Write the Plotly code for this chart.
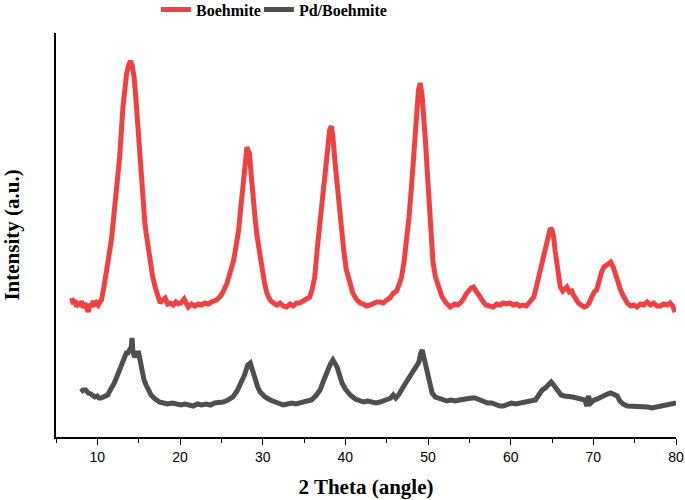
import plotly.graph_objects as go

# Boehmite (red) – 2θ in degrees and intensity (a.u.)
boehmite_2theta = [6.9, 7.1, 7.3, 7.5, 7.7, 7.9, 8.1, 8.3, 8.5, 8.7, 8.9, 9.1, 9.3, 9.5, 9.7, 9.9, 10.1, 10.3, 10.5,
    10.8, 11.1, 11.4, 11.7, 12.1, 12.4, 12.7, 13.1, 13.3, 13.55, 13.8, 14.0, 14.2, 14.45, 14.65, 14.85, 15.05, 15.2,
    15.4, 15.55, 15.75, 15.9, 16.2, 16.4, 16.7, 17.0, 17.3, 17.6, 17.9, 18.2, 18.5, 18.8, 19.2, 19.5, 19.8, 20.1,
    20.5, 20.8, 21.0, 21.4, 21.8, 22.2, 22.6, 23.0, 23.4, 23.8, 24.1, 24.4, 24.8, 25.2, 25.7, 26.1, 26.5, 26.8,
    27.1, 27.3, 27.5, 27.7, 27.9, 28.1, 28.25, 28.4, 28.55, 28.7, 28.9, 29.1, 29.3, 29.5, 29.7, 29.9, 30.2, 30.5,
    30.9, 31.3, 31.7, 32.1, 32.5, 32.9, 33.3, 33.7, 34.1, 34.5, 34.9, 35.3, 35.7, 36.0, 36.3, 36.6, 36.95, 37.25,
    37.55, 37.85, 38.1, 38.3, 38.5, 38.75, 39.0, 39.2, 39.5, 39.8, 40.1, 40.4, 40.9, 41.4, 41.8, 42.2, 42.6, 43.0,
    43.4, 43.8, 44.2, 44.6, 45.0, 45.4, 45.8, 46.2, 46.5, 46.8, 47.1, 47.4, 47.7, 48.0, 48.2, 48.45, 48.65, 48.85,
    49.0, 49.1, 49.3, 49.45, 49.7, 49.9, 50.1, 50.3, 50.6, 50.9, 51.3, 51.7, 52.2, 52.7, 53.2, 53.6, 53.9, 54.3,
    54.6, 54.9, 55.2, 55.5, 55.8, 56.1, 56.4, 56.7, 57.0, 57.4, 57.9, 58.3, 58.7, 59.1, 59.5, 59.9, 60.3, 60.7,
    61.1, 61.5, 61.9, 62.3, 62.6, 62.8, 63.1, 63.5, 63.9, 64.2, 64.5, 64.8, 65.0, 65.2, 65.4, 65.6, 65.8, 66.0,
    66.3, 66.6, 66.8, 67.1, 67.4, 67.6, 67.9, 68.2, 68.5, 68.9, 69.2, 69.5, 69.8, 70.1, 70.4, 70.7, 71.0, 71.3,
    71.6, 71.9, 72.1, 72.4, 72.6, 72.9, 73.3, 73.7, 74.1, 74.5, 74.9, 75.3, 75.7, 76.1, 76.5, 76.9, 77.3, 77.7,
    78.1, 78.5, 78.9, 79.3, 79.6, 79.9]
boehmite_intensity = [139, 133, 137, 130, 135, 131, 136, 129, 134, 128, 125, 133, 130, 136, 131, 134, 132, 135, 137,
    150, 164, 180, 197, 230, 255, 280, 330, 350, 364, 372, 376, 372, 360, 340, 314, 290, 274,
    250, 230, 214, 204, 186, 174, 160, 150, 140, 134, 137, 139, 133, 134, 132, 135, 133, 134,
    138, 133, 130, 133, 131, 133, 132, 134, 133, 135, 136, 137, 140, 145, 154, 165, 177, 192,
    207, 225, 244, 262, 277, 290, 286, 284, 268, 250, 232, 217, 202, 190, 178, 167, 155, 144,
    137, 134, 132, 134, 131, 130, 133, 131, 134, 134, 136, 138, 140, 148, 160, 188, 217, 245,
    267, 290, 307, 311, 300, 275, 252, 237, 208, 187, 168, 157, 144, 137, 134, 133, 131, 132,
    134, 135, 135, 134, 137, 139, 144, 146, 152, 160, 175, 194, 220, 250, 275, 300, 325, 347,
    352, 352, 340, 327, 295, 267, 235, 200, 175, 160, 148, 140, 134, 130, 133, 132, 134, 138,
    143, 146, 149, 150, 146, 141, 137, 135, 132, 131, 130, 133, 132, 134, 133, 134, 132, 133,
    131, 132, 131, 135, 138, 140, 150, 164, 178, 187, 198, 209, 207, 200, 185, 170, 158, 150,
    146, 149, 150, 145, 146, 142, 137, 134, 132, 130, 131, 134, 140, 145, 147, 158, 165, 170,
    172, 175, 175, 170, 164, 155, 147, 140, 134, 131, 132, 130, 133, 132, 135, 132, 134, 131,
    131, 133, 132, 134, 131, 125]

# Pd/Boehmite (dark grey)
pd_2theta = [8.0, 8.3, 8.6, 8.9, 9.2, 9.4, 9.7, 10.0, 10.2, 10.45, 10.7, 11.0, 11.25, 11.5, 11.8, 12.05, 12.35, 12.65,
    13.0, 13.3, 13.5, 13.7, 13.9, 14.1, 14.2, 14.3, 14.5, 14.75, 15.0, 15.2, 15.4, 15.65, 15.9, 16.2, 16.5, 17.0,
    17.5, 18.0, 18.5, 19.1, 19.6, 20.1, 20.6, 21.1, 21.6, 22.1, 22.6, 23.2, 23.7, 24.2, 24.7, 25.2, 25.8, 26.4,
    26.9, 27.4, 27.8, 28.2, 28.5, 28.8, 29.1, 29.4, 29.7, 30.3, 30.9, 31.5, 32.0, 32.5, 33.0, 33.5, 34.0, 34.5,
    35.0, 35.5, 35.9, 36.4, 36.95, 37.4, 37.8, 38.2, 38.5, 38.8, 39.0, 39.3, 39.6, 40.0, 40.6, 41.2, 41.7, 42.2,
    42.7, 43.2, 43.7, 44.2, 44.7, 45.2, 45.5, 45.8, 46.1, 46.5, 47.0, 47.5, 47.9, 48.2, 48.6, 48.9, 49.1, 49.3,
    49.5, 49.7, 49.9, 50.2, 50.5, 50.9, 51.3, 51.8, 52.3, 52.8, 53.3, 53.8, 54.3, 54.8, 55.3, 55.7, 56.2, 56.7,
    57.2, 57.7, 58.2, 58.7, 59.1, 59.6, 60.1, 60.6, 61.1, 61.6, 62.1, 62.6, 63.0, 63.4, 63.8, 64.2, 64.6, 64.9,
    65.2, 65.5, 65.8, 66.1, 66.5, 67.0, 67.5, 68.0, 68.5, 69.0, 69.2, 69.4, 69.7, 70.1, 70.5, 70.9, 71.3, 71.7,
    72.1, 72.5, 72.9, 73.2, 73.6, 74.1, 74.6, 75.1, 75.6, 76.1, 76.6, 77.1, 77.6, 78.1, 78.6, 79.1, 79.6, 80.0]
pd_intensity = [45, 47, 47, 44, 43, 42, 40, 41, 39, 39, 40, 42, 42, 46, 50, 54, 60, 67,
    74, 80, 84, 84, 88, 90, 99, 86, 80, 84, 84, 74, 64, 57, 52, 47, 42, 38,
    35, 34, 33, 34, 33, 32, 33, 32, 31, 33, 32, 33, 32, 34, 34, 35, 37, 40,
    46, 54, 62, 72, 74, 66, 57, 50, 45, 40, 37, 35, 34, 32, 33, 34, 33, 34,
    35, 36, 37, 41, 47, 57, 67, 73, 77, 72, 70, 62, 54, 48, 42, 38, 36, 35,
    36, 35, 34, 35, 36, 38, 39, 42, 39, 43, 50, 57, 63, 67, 72, 75, 83, 87,
    80, 73, 67, 52, 44, 40, 39, 37, 36, 37, 36, 37, 38, 39, 39, 39, 37, 36,
    34, 34, 32, 31, 31, 33, 34, 33, 34, 34, 35, 36, 37, 42, 47, 49, 52, 55,
    52, 48, 44, 42, 41, 41, 40, 39, 38, 37, 31, 41, 34, 37, 38, 40, 42, 43,
    44, 43, 41, 36, 33, 31, 31, 30, 30, 31, 30, 29, 30, 31, 31, 33, 33, 34]

x_tickvals = [10, 20, 30, 40, 50, 60, 70, 80]
x_ticktext = ["10", "20", "30", "40", "50", "60", "70", "80"]

serif = "Liberation Serif"
sans = "Liberation Sans"

fig = go.Figure()
fig.add_trace(go.Scatter(x=boehmite_2theta, y=boehmite_intensity, mode="lines", name="Boehmite",
                         line=dict(color="#f04142", width=5), legend="legend"))
fig.add_trace(go.Scatter(x=pd_2theta, y=pd_intensity, mode="lines", name="Pd/Boehmite",
                         line=dict(color="#4f4f4f", width=5), legend="legend2"))

leg_common = dict(orientation="h", xref="container", yref="container", y=0.981,
                  xanchor="left", yanchor="middle",
                  font=dict(family=serif, size=16, color="black", weight="bold"),
                  bgcolor="rgba(0,0,0,0)", borderwidth=0)

fig.update_layout(
    width=685, height=500,
    margin=dict(l=56, r=9, t=33, b=63, autoexpand=False),
    plot_bgcolor="white", paper_bgcolor="white",
    showlegend=True,
    legend=dict(x=0.2277, **leg_common),
    legend2=dict(x=0.378, **leg_common),
    xaxis=dict(range=[5, 80], tickvals=x_tickvals, ticktext=x_ticktext, ticks="outside", ticklen=6, tickwidth=1.3,
               tickcolor="black", showline=True, linecolor="black", linewidth=1.5, showgrid=False, zeroline=False,
               automargin=False,
               minor=dict(dtick=5, tick0=5, ticks="outside", ticklen=4, tickwidth=1.3, tickcolor="black", showgrid=False),
               tickfont=dict(family=sans, size=14, color="black"),
               title=dict(text="2 Theta (angle)", font=dict(family=serif, size=21, color="black", weight="bold"), standoff=16)),
    yaxis=dict(range=[0, 404], showline=True, linecolor="black", linewidth=1.5, showticklabels=False, ticks="",
               showgrid=False, zeroline=False, automargin=False,
               title=dict(text="Intensity (a.u.)", font=dict(family=serif, size=21, color="black", weight="bold"), standoff=30)),
)

fig.write_html("out.html", config={"displayModeBar": False},
               post_script="document.body.style.margin='0';")
